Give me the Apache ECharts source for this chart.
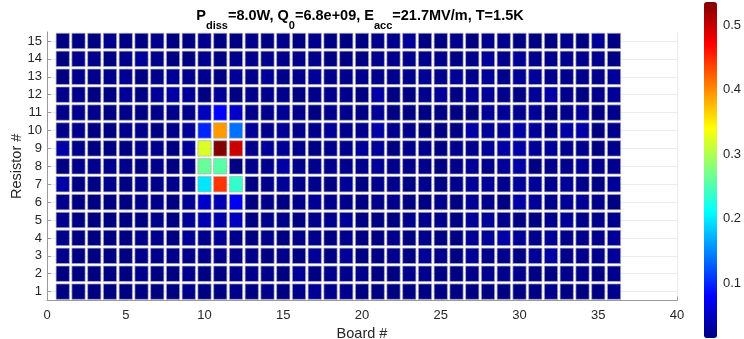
<!DOCTYPE html>
<html>
<head>
<meta charset="utf-8">
<script src="https://cdn.jsdelivr.net/npm/echarts@6/dist/echarts.min.js"></script>
<style>
  html, body { margin: 0; padding: 0; background: #fff; }
  #chart { width: 744px; height: 339px; }
</style>
</head>
<body>
<div id="chart"></div>
<script>
// Board numbers (x) and resistor numbers (y)
const boards = [1,2,3,4,5,6,7,8,9,10,11,12,13,14,15,16,17,18,19,20,21,22,23,24,25,26,27,28,29,30,31,32,33,34,35,36];
const resistors = [1,2,3,4,5,6,7,8,9,10,11,12,13,14,15];

// Dissipated power fraction per resistor row, one value per board
const res01 = [.016,.016,.016,.016,.016,.016,.016,.016,.021,.016,.016,.021,.016,.021,.016,.021,.027,.021,.021,.016,.016,.016,.016,.016,.016,.016,.016,.016,.016,.016,.016,.021,.016,.016,.016,.021];
const res02 = [.016,.016,.016,.016,.016,.021,.016,.016,.021,.016,.016,.021,.021,.021,.016,.027,.016,.021,.021,.021,.016,.016,.021,.021,.016,.016,.021,.021,.021,.021,.016,.016,.021,.021,.016,.021];
const res03 = [.021,.016,.016,.016,.016,.021,.021,.021,.021,.021,.021,.021,.021,.016,.021,.016,.027,.016,.027,.016,.016,.021,.016,.027,.021,.016,.027,.021,.021,.016,.027,.034,.021,.021,.021,.027];
const res04 = [.021,.016,.016,.016,.016,.021,.021,.016,.027,.021,.027,.021,.016,.021,.016,.021,.021,.016,.021,.016,.016,.021,.016,.021,.016,.016,.027,.027,.034,.027,.021,.027,.021,.021,.021,.027];
const res05 = [.021,.016,.016,.016,.016,.016,.021,.016,.027,.040,.036,.048,.016,.021,.021,.016,.021,.021,.027,.016,.016,.016,.021,.021,.021,.016,.027,.027,.021,.016,.016,.021,.027,.021,.021,.021];
const res06 = [.021,.016,.016,.016,.016,.021,.021,.016,.027,.054,.041,.073,.016,.021,.016,.021,.027,.021,.021,.016,.021,.021,.016,.016,.021,.016,.027,.021,.016,.034,.027,.021,.027,.027,.021,.016];
const res07 = [.034,.016,.016,.021,.016,.021,.021,.021,.021,.197,.444,.236,.016,.021,.027,.021,.021,.016,.027,.016,.021,.021,.016,.021,.016,.021,.027,.027,.021,.027,.027,.021,.027,.021,.016,.027];
const res08 = [.016,.021,.021,.021,.021,.016,.021,.016,.021,.262,.255,.016,.021,.021,.034,.021,.021,.021,.021,.021,.027,.021,.021,.021,.016,.021,.027,.021,.027,.034,.016,.021,.021,.027,.021,.021];
const res09 = [.034,.021,.016,.016,.016,.021,.021,.016,.027,.321,.535,.497,.021,.027,.027,.021,.016,.021,.021,.027,.027,.016,.021,.021,.016,.021,.021,.027,.034,.034,.027,.027,.021,.021,.016,.021];
const res10 = [.021,.021,.016,.016,.021,.021,.016,.021,.027,.099,.392,.138,.027,.021,.027,.021,.021,.027,.021,.021,.034,.021,.021,.016,.016,.016,.034,.027,.027,.034,.027,.021,.034,.034,.016,.021];
const res11 = [.021,.021,.021,.016,.021,.016,.021,.021,.021,.046,.080,.052,.021,.021,.027,.021,.016,.021,.021,.016,.027,.016,.016,.016,.016,.016,.016,.027,.027,.021,.027,.016,.021,.027,.016,.021];
const res12 = [.021,.021,.016,.016,.027,.016,.027,.034,.027,.016,.027,.016,.021,.021,.021,.016,.021,.021,.021,.016,.034,.016,.016,.021,.027,.016,.027,.027,.021,.016,.027,.034,.021,.016,.021,.027];
const res13 = [.016,.021,.021,.021,.027,.016,.021,.027,.021,.021,.016,.027,.021,.027,.021,.021,.027,.021,.021,.021,.021,.021,.021,.027,.021,.027,.021,.027,.021,.027,.027,.021,.021,.021,.021,.027];
const res14 = [.016,.021,.021,.016,.021,.027,.021,.016,.016,.021,.016,.021,.021,.021,.021,.021,.021,.016,.016,.016,.021,.021,.021,.021,.021,.016,.021,.027,.021,.027,.021,.021,.021,.021,.021,.016];
const res15 = [.016,.016,.016,.021,.016,.016,.021,.016,.016,.021,.016,.016,.021,.016,.021,.016,.021,.016,.016,.016,.021,.021,.027,.016,.016,.021,.016,.021,.021,.016,.016,.016,.021,.016,.027,.016];

// Tick labels
const boardTicks = [0, 5, 10, 15, 20, 25, 30, 35, 40];
const resistorTicks = [1,2,3,4,5,6,7,8,9,10,11,12,13,14,15];
const colorbarTicks = [0.1, 0.2, 0.3, 0.4, 0.5];
const colorRange = [0.0147, 0.5357];

// Jet colormap sampled at eight equal steps
const jet = ['#000080','#0000ff','#0080ff','#00ffff','#80ff80','#ffff00','#ff8000','#ff0000','#800000'];

const rows = [res01,res02,res03,res04,res05,res06,res07,res08,res09,res10,res11,res12,res13,res14,res15];
const cells = [];
rows.forEach((row, i) => {
  row.forEach((v, j) => cells.push([boards[j], resistors[i], v]));
});

const font = "'Liberation Sans', Arial, Helvetica, sans-serif";
const labelColor = '#262626';
const axisColor = '#9a9a9a';

const chart = echarts.init(document.getElementById('chart'), null, { renderer: 'canvas' });
chart.setOption({
  backgroundColor: '#fff',
  animation: false,
  textStyle: { fontFamily: font },
  title: {
    text: '{b|P}{s|diss}{b|=8.0W, Q}{s|0}{b|=6.8e+09, E}{s|acc}{b|=21.7MV/m, T=1.5K}',
    left: 360,
    textAlign: 'center',
    top: 6,
    padding: 0,
    textStyle: {
      rich: {
        b: { fontFamily: font, fontSize: 14.5, fontWeight: 'bold', color: '#000', lineHeight: 20 },
        s: { fontFamily: font, fontSize: 11, fontWeight: 'bold', color: '#000', padding: [19, 0, 0, 0], lineHeight: 12 }
      }
    }
  },
  grid: [
    { left: 47, top: 32, width: 630, height: 268.6, containLabel: false, outerBoundsMode: 'none' },
    { left: 704, top: 2, width: 13, height: 336, containLabel: false, outerBoundsMode: 'none' }
  ],
  xAxis: [
    {
      type: 'value', gridIndex: 0, min: 0, max: 40, interval: 5,
      name: 'Board #', nameLocation: 'middle', nameGap: 22,
      nameTextStyle: { fontSize: 14.5, color: labelColor, fontFamily: font },
      axisLine: { show: true, lineStyle: { color: axisColor, width: 1 } },
      axisTick: { show: true, inside: true, length: 4, lineStyle: { color: axisColor } },
      axisLabel: { fontSize: 13, color: labelColor, margin: 8, customValues: boardTicks },
      splitLine: { show: true, lineStyle: { color: '#ececec', width: 1 } }
    },
    { type: 'value', gridIndex: 1, show: false, min: 0, max: 1 }
  ],
  yAxis: [
    {
      type: 'value', gridIndex: 0, min: 0.5, max: 15.5,
      name: 'Resistor #', nameLocation: 'middle', nameGap: 23, nameRotate: 90, nameMoveOverlap: false,
      nameTextStyle: { fontSize: 14.5, color: labelColor, fontFamily: font },
      axisLine: { show: true, lineStyle: { color: axisColor, width: 1 } },
      axisTick: { show: true, inside: true, length: 4, lineStyle: { color: axisColor }, customValues: resistorTicks },
      axisLabel: { fontSize: 13, color: labelColor, margin: 5, customValues: resistorTicks },
      splitLine: { show: true, lineStyle: { color: '#ececec', width: 1 } }
    },
    {
      type: 'value', gridIndex: 1, position: 'right', min: colorRange[0], max: colorRange[1],
      axisLine: { show: false },
      axisTick: { show: true, length: 3, lineStyle: { color: '#555' }, customValues: colorbarTicks },
      axisLabel: { fontSize: 13, color: labelColor, margin: 6, customValues: colorbarTicks },
      splitLine: { show: false }
    }
  ],
  visualMap: {
    type: 'continuous',
    min: colorRange[0], max: colorRange[1],
    dimension: 2, seriesIndex: 0,
    calculable: false, hoverLink: false,
    orient: 'vertical',
    left: 704, top: 2, padding: 0,
    itemWidth: 13, itemHeight: 336,
    text: null, showLabel: false,
    inRange: { color: jet }
  },
  series: [{
    type: 'custom',
    coordinateSystem: 'cartesian2d',
    xAxisIndex: 0, yAxisIndex: 0,
    data: cells,
    encode: { x: 0, y: 1 },
    renderItem: function (params, api) {
      const corner = api.coord([api.value(0) - 0.5, api.value(1) + 0.5]);
      const size = api.size([1, 1]);
      const gap = 1.25;
      return {
        type: 'rect',
        shape: { x: corner[0] + gap, y: corner[1] + gap, width: size[0] - 2 * gap, height: size[1] - 2 * gap },
        style: { fill: api.visual('color'), stroke: 'rgba(175,175,175,0.85)', lineWidth: 0.8 }
      };
    }
  }]
});
</script>
</body>
</html>
